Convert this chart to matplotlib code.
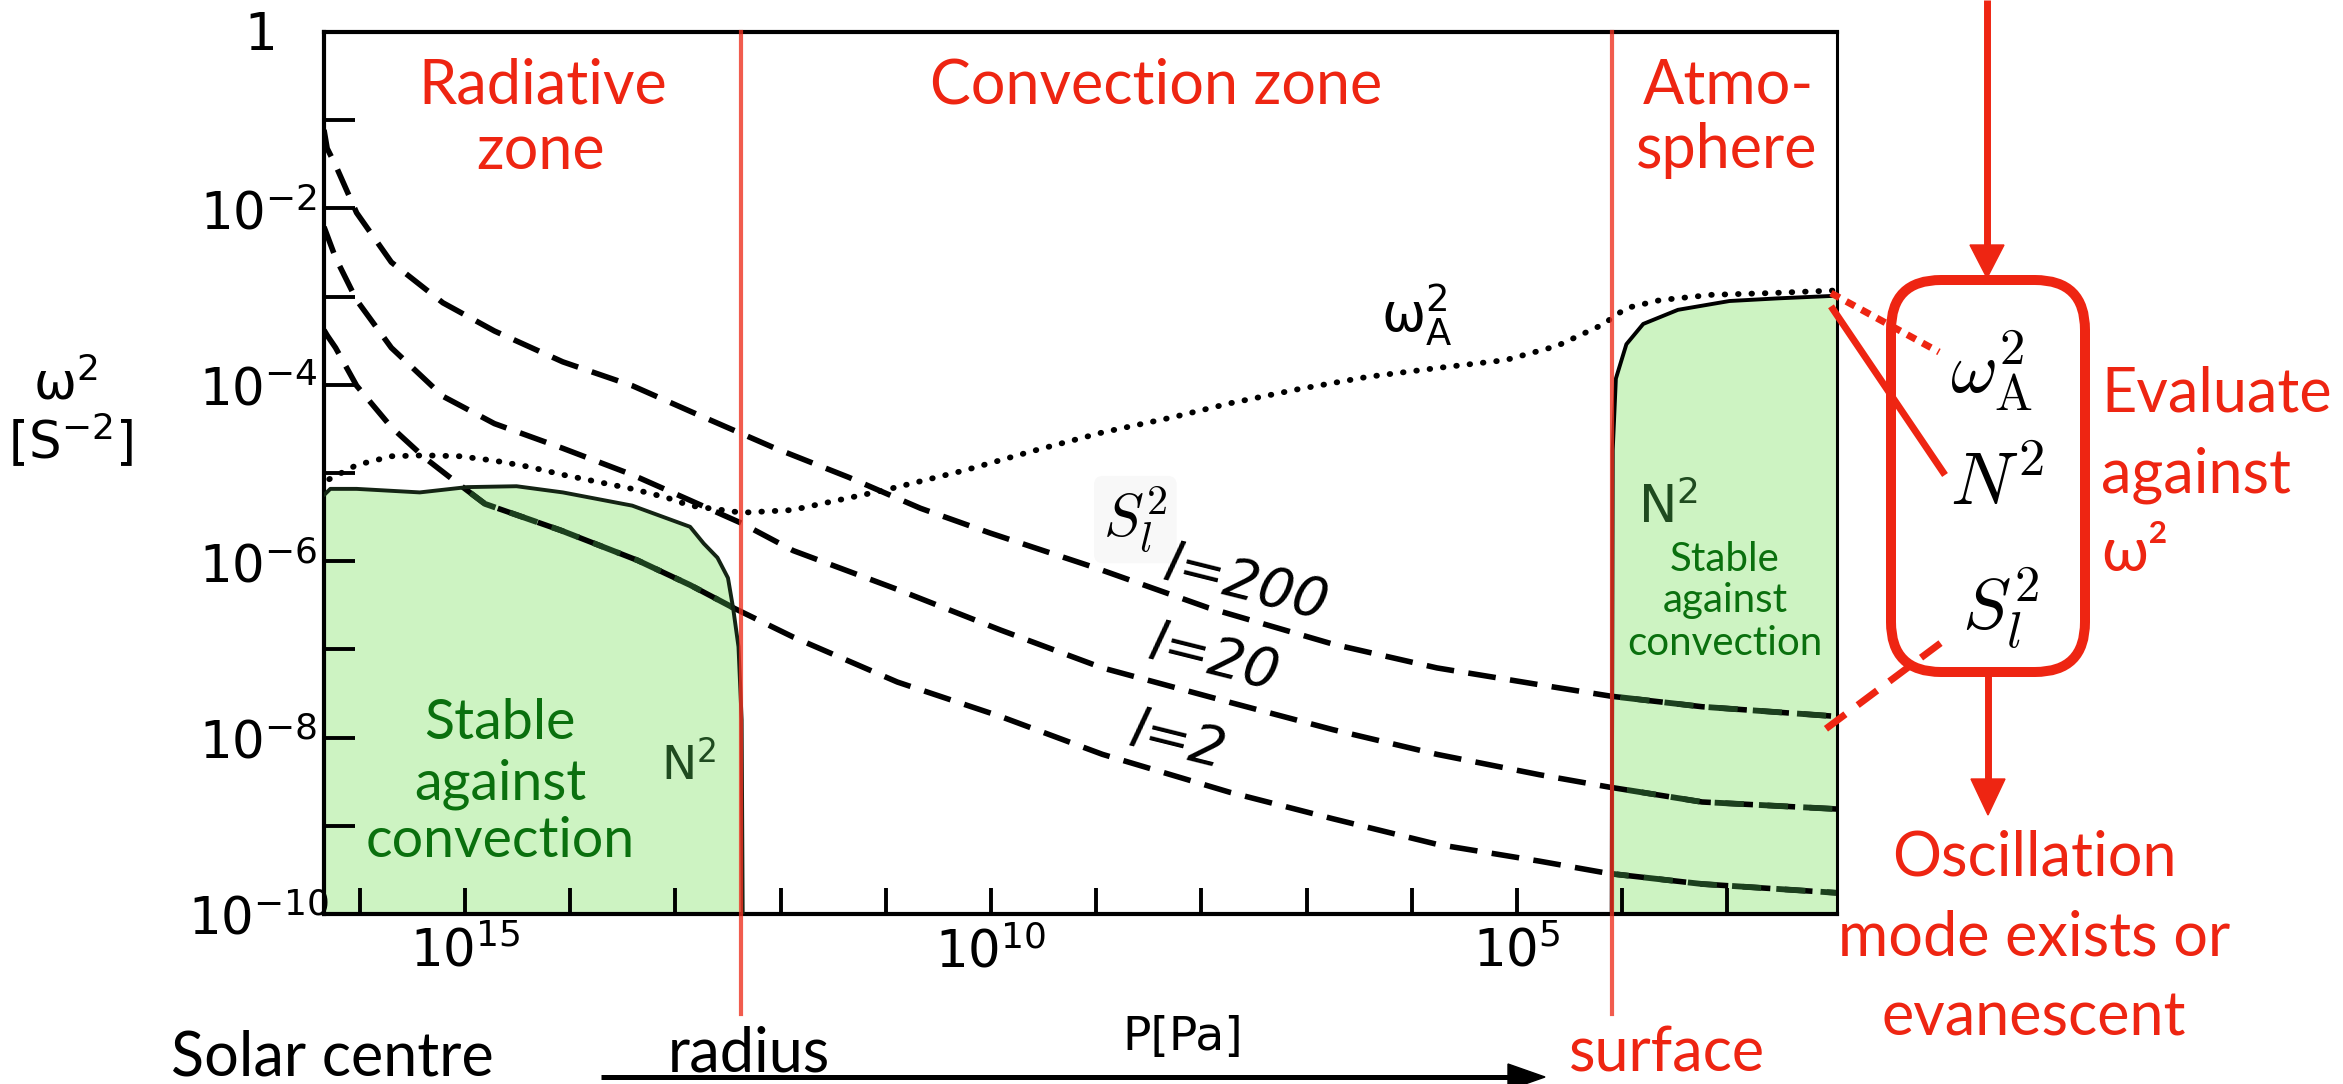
import numpy as np
import matplotlib
matplotlib.use("Agg")
import matplotlib.pyplot as plt
from matplotlib.patches import FancyBboxPatch, Polygon, ConnectionPatch
from matplotlib.ticker import NullLocator

W, H, DPI = 2343, 1084, 100

plt.rcParams['font.family'] = ['Lato', 'DejaVu Sans']
plt.rcParams['mathtext.fontset'] = 'custom'
plt.rcParams['mathtext.rm'] = 'Liberation Sans Narrow'
plt.rcParams['mathtext.it'] = 'Liberation Sans Narrow:italic'
plt.rcParams['mathtext.bf'] = 'Liberation Sans Narrow:bold'
NARROW = ['Liberation Sans Narrow', 'DejaVu Sans']

# ---------------- data: log10 P [Pa]  vs  log10 omega^2 [s^-2] ----------------
# acoustic cut-off frequency omega_A^2
logP_wA = [16.29, 16.03, 15.70, 15.38, 15.05, 14.72, 14.39, 14.07, 13.74, 13.41,
           13.08, 12.86, 12.37, 11.89, 11.03, 10.25, 9.60, 8.94, 8.28, 7.73,
           7.08, 6.42, 5.76, 5.11, 4.62, 4.19, 3.96, 3.64, 3.15, 2.59, 1.96]
logw_wA = [-5.07, -4.91, -4.81, -4.80, -4.81, -4.86, -4.93, -5.02, -5.10, -5.18,
           -5.28, -5.37, -5.45, -5.42, -5.20, -4.97, -4.75, -4.54, -4.37, -4.21,
           -4.05, -3.91, -3.81, -3.72, -3.56, -3.32, -3.13, -3.04, -2.98, -2.96, -2.93]

# Lamb frequencies S_l^2 for l = 200, 20, 2
logP_l200 = [16.34, 16.31, 16.23, 16.03, 15.70, 15.21, 14.72, 14.07, 13.41, 12.86,
             12.07, 11.35, 10.67, 10.01, 9.02, 7.93, 6.75, 5.76, 4.79, 4.11, 3.24, 1.96]
logw_l200 = [-1.11, -1.32, -1.51, -2.05, -2.61, -3.07, -3.39, -3.74, -4.01, -4.30,
             -4.71, -5.05, -5.40, -5.68, -6.07, -6.53, -6.94, -7.21, -7.40, -7.53, -7.65, -7.76]

logP_l20 = [16.34, 16.23, 16.03, 15.70, 15.21, 14.72, 14.07, 13.41, 12.86, 12.37,
            11.88, 10.89, 9.91, 8.94, 7.73, 6.75, 5.76, 4.79, 4.13, 3.24, 1.96]
logw_l20 = [-2.21, -2.56, -3.04, -3.58, -4.13, -4.44, -4.72, -5.02, -5.31, -5.57,
            -5.88, -6.32, -6.78, -7.21, -7.60, -7.91, -8.19, -8.42, -8.56, -8.73, -8.81]

logP_l2 = [16.34, 16.31, 16.23, 16.03, 15.70, 15.38, 15.11, 14.81, 14.09, 13.36,
           12.86, 12.43, 11.88, 10.89, 9.91, 8.94, 7.73, 6.75, 5.76, 4.79, 4.13, 3.24, 1.96]
logw_l2 = [-3.38, -3.44, -3.58, -4.01, -4.48, -4.83, -5.08, -5.35, -5.65, -5.99,
           -6.27, -6.54, -6.86, -7.37, -7.76, -8.19, -8.62, -8.92, -9.21, -9.40, -9.54, -9.66, -9.76]

# Brunt-Vaisala frequency N^2 in the radiative interior and in the atmosphere
logP_Nrad = [16.34, 16.28, 16.03, 15.43, 14.98, 14.51, 14.07, 13.41, 12.86, 12.73,
             12.60, 12.50, 12.45, 12.40, 12.37, 12.36]
logw_Nrad = [-5.25, -5.18, -5.18, -5.22, -5.16, -5.15, -5.22, -5.37, -5.61, -5.80,
             -5.96, -6.19, -6.54, -6.97, -7.80, -10.0]

logP_Natm = [4.10, 4.09, 4.06, 3.96, 3.80, 3.47, 2.98, 2.52, 1.96]
logw_Natm = [-10.0, -4.74, -3.93, -3.54, -3.31, -3.15, -3.05, -3.02, -2.99]

# zone boundaries: base of convection zone and solar surface
logP_base_cz = 12.38
logP_surface = 4.10

x_major = np.arange(3, 17)
x_labels = {15: r'$\mathrm{10^{15}}$', 10: r'$\mathrm{10^{10}}$', 5: r'$\mathrm{10^{5}}$'}
y_major = np.arange(-10, 1)
y_labels = {0: r'$\mathrm{1}$', -2: r'$\mathrm{10^{-2}}$', -4: r'$\mathrm{10^{-4}}$',
            -6: r'$\mathrm{10^{-6}}$', -8: r'$\mathrm{10^{-8}}$', -10: r'$\mathrm{10^{-10}}$'}

XLEFT, XRIGHT = 16.34, 1.958

def p(a):
    return 10.0 ** np.asarray(a, dtype=float)

# ---------------- figure ----------------
fig = plt.figure(figsize=(W / DPI, H / DPI), dpi=DPI)
ax = fig.add_axes([324 / W, 1 - 914 / H, (1837 - 324) / W, (914 - 32) / H])
ax.set_xscale('log')
ax.set_yscale('log')
ax.set_xlim(p(XLEFT), p(XRIGHT))
ax.set_ylim(1e-10, 1)

GREEN_FILL = '#cdf3c2'
DARK_GREEN = '#1c401e'
RED = '#ee2512'
DASH = (0, (5.0, 2.6))

# stable (N^2 > 0) regions
rad_x = [XLEFT] + logP_Nrad
rad_y = [-10.0] + logw_Nrad
rad_patch = ax.fill(p(rad_x), p(rad_y), color=GREEN_FILL, lw=0, zorder=1)[0]
atm_x = logP_Natm + [XRIGHT]
atm_y = logw_Natm + [-10.0]
atm_patch = ax.fill(p(atm_x), p(atm_y), color=GREEN_FILL, lw=0, zorder=1)[0]

# N^2 curves
ax.plot(p(logP_Nrad), p(logw_Nrad), color='#142414', lw=2.8, zorder=3,
        solid_capstyle='round', solid_joinstyle='round')
ax.plot(p(logP_Natm), p(logw_Natm), color='black', lw=2.8, zorder=3,
        solid_capstyle='round', solid_joinstyle='round')

# S_l^2 dashed curves (dark green where they cross the shaded regions)
for lx, ly in [(logP_l200, logw_l200), (logP_l20, logw_l20), (logP_l2, logw_l2)]:
    ax.plot(p(lx), p(ly), color='black', lw=4.0, ls=DASH, zorder=2)
    for patch in (rad_patch, atm_patch):
        ln, = ax.plot(p(lx), p(ly), color=DARK_GREEN, lw=4.2, ls=DASH, zorder=2.1)
        ln.set_clip_path(patch)

# omega_A^2 dotted curve
ax.plot(p(logP_wA), p(logw_wA), color='black', lw=4.2, ls=(0, (0.1, 2.2)),
        dash_capstyle='round', zorder=2)

# zone boundaries
for xb in (logP_base_cz, logP_surface):
    ax.plot([p(xb)] * 2, [1.0, p(-11.13)], color='#ee3322', alpha=0.8, lw=3.0,
            clip_on=False, zorder=6)

# axes styling
for side, lw in [('top', 3.0), ('left', 3.0), ('bottom', 3.0), ('right', 2.2)]:
    ax.spines[side].set_linewidth(lw)
ax.xaxis.set_minor_locator(NullLocator())
ax.yaxis.set_minor_locator(NullLocator())
ax.set_xticks(p(x_major))
ax.set_xticklabels([x_labels.get(int(v), '') for v in x_major])
ax.set_yticks(p(y_major))
ax.set_yticklabels([y_labels.get(int(v), '') for v in y_major])
ax.tick_params(axis='x', direction='in', length=19, width=2.8, pad=8,
               labelsize=37, top=False)
ax.tick_params(axis='y', direction='in', length=22, width=2.8, pad=47,
               labelsize=37, right=False)
for lab in ax.get_yticklabels():
    lab.set_horizontalalignment('center')

# ---------------- overlay in pixel units (y downward) ----------------
ov = fig.add_axes([0, 0, 1, 1], zorder=10)
ov.set_xlim(0, W)
ov.set_ylim(H, 0)
ov.axis('off')
ov.patch.set_alpha(0)

# zone names
zone_kw = dict(color=RED, fontsize=44, va='baseline', ha='center')
ov.text(543, 103, 'Radiative', **zone_kw)
ov.text(541, 169, 'zone', **zone_kw)
ov.text(1156, 104, 'Convection zone', **zone_kw)
ov.text(1728, 104, 'Atmo-', **zone_kw)
ov.text(1727, 168, 'sphere', **zone_kw)

# stability annotations
for i, s in enumerate(['Stable', 'against', 'convection']):
    ov.text(500, [739, 799, 857][i], s, color='#0a700e', fontsize=40,
            ha='center', va='baseline')
    ov.text(1725, [571, 612, 655][i], s, color='#0a700e', fontsize=29,
            ha='center', va='baseline')

# curve labels
ov.text(1381, 331, r'$\mathrm{\omega_A^2}$', fontsize=38, va='baseline', ha='left')
ov.text(1638, 523, r'$\mathrm{N^2}$', fontsize=37, color='#1f4a1f', va='baseline')
ov.text(661, 779, r'$\mathrm{N^2}$', fontsize=34, color='#1f4a1f', va='baseline')
ov.text(1103, 537, r'$S_l^2$', math_fontfamily='cm', fontsize=43, va='baseline',
        bbox=dict(boxstyle='round,pad=0.15', fc='#f8f8f8', ec='none'))
for txt, (cx, cy) in [('l=200', (1245, 584)), ('l=20', (1213, 659)), ('l=2', (1177, 741))]:
    ov.text(cx, cy, txt, family=NARROW, style='italic', fontsize=40, rotation=-14,
            ha='center', va='center', rotation_mode='anchor')

# axis labels
ov.text(65, 400, r'$\mathrm{\omega^2}$', fontsize=37, ha='center', va='baseline')
ov.text(71, 459, r'$\mathrm{[S^{-2}]}$', fontsize=37, ha='center', va='baseline')
ov.text(1183, 1050, 'P[Pa]', family=NARROW, fontsize=34, ha='center', va='baseline')

# position along the solar radius
ov.text(171, 1075, 'Solar centre', fontsize=44, va='baseline')
ov.text(668, 1071, 'radius', fontsize=44, va='baseline')
ov.text(1569, 1071, 'surface', fontsize=44, color=RED, va='baseline')
ov.plot([601, 1515], [1077, 1077], color='black', lw=3.6, solid_capstyle='butt')
ov.add_patch(Polygon([(1508, 1064), (1545, 1077), (1508, 1090)], closed=True,
                     color='black', clip_on=False))

# evaluation box
ov.add_patch(FancyBboxPatch((1891, 280), 194, 392,
                            boxstyle='round,pad=0,rounding_size=50',
                            fc='none', ec=RED, lw=7.2))
ov.text(1950, 393, r'$\omega_{\mathrm{A}}^2$', math_fontfamily='cm', fontsize=52,
        va='baseline')
ov.text(1950, 505, r'$N^2$', math_fontfamily='cm', fontsize=54, va='baseline')
ov.text(1962, 630, r'$S_l^2$', math_fontfamily='cm', fontsize=52, va='baseline')

# flow arrows
ov.plot([1987, 1987], [0, 250], color=RED, lw=5, solid_capstyle='butt')
ov.add_patch(Polygon([(1970, 245), (2004, 245), (1987, 278)], closed=True, color=RED))
ov.plot([1988, 1988], [672, 785], color=RED, lw=5, solid_capstyle='butt')
ov.add_patch(Polygon([(1971, 779), (2005, 779), (1988, 815)], closed=True, color=RED))

ev_kw = dict(color=RED, fontsize=44, va='baseline')
ov.text(2101, 412, 'Evaluate', ha='left', **ev_kw)
ov.text(2101, 493, 'against', ha='left', **ev_kw)
ov.text(2101, 571, 'ω²', ha='left', **ev_kw)
ov.text(2034, 876, 'Oscillation', ha='center', **ev_kw)
ov.text(2034, 956, 'mode exists or', ha='center', **ev_kw)
ov.text(2034, 1036, 'evanescent', ha='center', **ev_kw)

# connectors from curve ends to the box entries
for lp, end, style in [((2.015, -2.96), (1939, 352), (0, (1.4, 1.1))),
                       ((2.015, -3.11), (1945, 475), '-'),
                       ((2.063, -7.90), (1942, 642), (0, (3.5, 2.2)))]:
    con = ConnectionPatch(xyA=(p(lp[0]), p(lp[1])), coordsA=ax.transData,
                          xyB=end, coordsB=ov.transData, color=RED, lw=5,
                          linestyle=style, capstyle='butt', zorder=12)
    fig.add_artist(con)

fig.savefig('out.png', dpi=DPI, facecolor='white')
